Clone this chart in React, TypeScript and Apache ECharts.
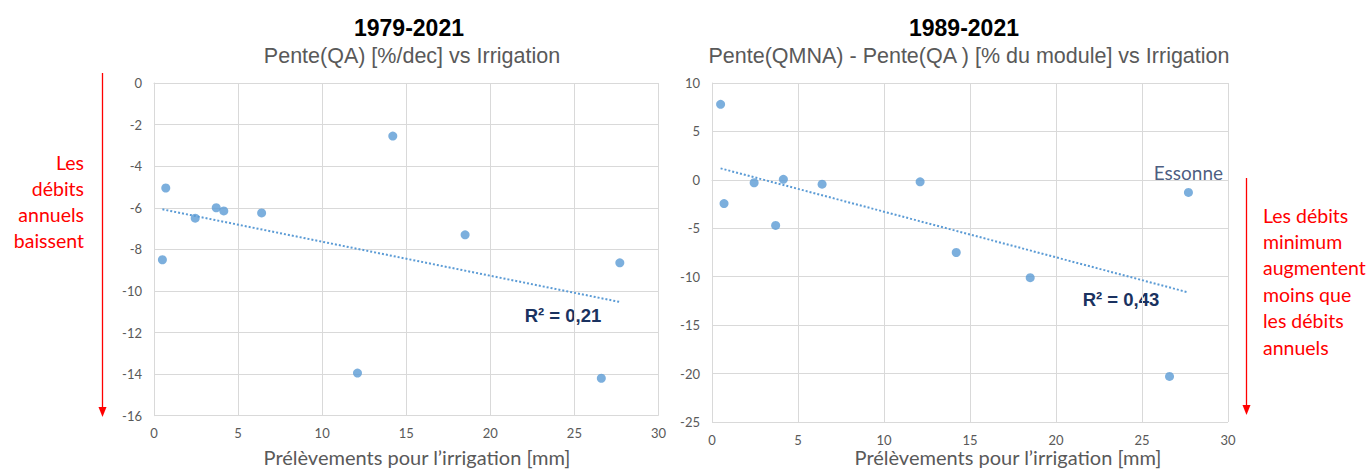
import React, { useEffect, useRef } from "react";
import * as echarts from "echarts";

// Prélèvements pour l'irrigation [mm]
const irrigation = [0.5, 0.7, 2.45, 3.7, 4.15, 6.4, 12.1, 14.2, 18.5, 26.6, 27.7];
// Pente(QA) [%/dec], 1979-2021
const penteQA = [-8.5, -5.05, -6.5, -6.0, -6.15, -6.25, -13.95, -2.55, -7.3, -14.2, -8.65];
// Pente(QMNA) - Pente(QA) [% du module], 1989-2021
const penteDiff = [7.8, -2.45, -0.3, -4.7, 0.05, -0.45, -0.2, -7.5, -10.1, -20.3, -1.3];
const stationNames = ["", "", "", "", "", "", "", "", "", "", "Essonne"];

const xTicks = { min: 0, max: 30, interval: 5 };
const leftYTicks = { min: -16, max: 0, interval: 2 };
const rightYTicks = { min: -25, max: 10, interval: 5 };

const titles = ["1979-2021", "1989-2021"];
const subtitles = [
  "Pente(QA) [%/dec] vs Irrigation",
  "Pente(QMNA) - Pente(QA ) [% du module] vs Irrigation",
];
const r2Labels = ["R² = 0,21", "R² = 0,43"];
const xName = "Prélèvements pour l’irrigation [mm]";
const leftNote = ["Les", "débits", "annuels", "baissent"];
const rightNote = ["Les débits", "minimum", "augmentent", "moins que", "les débits", "annuels"];

function linearFit(xs: number[], ys: number[]) {
  const n = xs.length;
  const mx = xs.reduce((a, b) => a + b, 0) / n;
  const my = ys.reduce((a, b) => a + b, 0) / n;
  let sxx = 0;
  let sxy = 0;
  for (let i = 0; i < n; i++) {
    sxx += (xs[i] - mx) * (xs[i] - mx);
    sxy += (xs[i] - mx) * (ys[i] - my);
  }
  const b = sxy / sxx;
  const a = my - b * mx;
  const x0 = Math.min(...xs);
  const x1 = Math.max(...xs);
  return [
    [x0, a + b * x0],
    [x1, a + b * x1],
  ];
}

const BLUE = "#5B9BD5";
const GRID = "#D9D9D9";
const LABEL = "#595959";
const NAVY = "#1A3260";
const RED = "#FF0000";
const SANS = "'Liberation Sans', Arial, sans-serif";
const CAL = "Lato, 'Open Sans', sans-serif";

function txt(text: string, x: number, y: number, font: string, fill: string, align = "center") {
  return {
    type: "text",
    x,
    y,
    silent: true,
    style: {
      text,
      font,
      fill,
      align,
      textAlign: align,
      verticalAlign: "middle",
      textVerticalAlign: "middle",
    },
  };
}

export default function App() {
  const ref = useRef<HTMLDivElement>(null);
  useEffect(() => {
    if (!ref.current) return;
    const chart = echarts.init(ref.current, undefined, { renderer: "svg" });

    const axisX = (gridIndex: number) => ({
      gridIndex,
      type: "value",
      ...xTicks,
      axisLine: { show: true, lineStyle: { color: GRID } },
      axisTick: { show: false },
      axisLabel: { color: LABEL, fontFamily: CAL, fontSize: 13, margin: 11 },
      splitLine: { show: true, lineStyle: { color: GRID } },
    });
    const axisY = (gridIndex: number, t: any) => ({
      gridIndex,
      type: "value",
      ...t,
      axisLine: { show: true, lineStyle: { color: GRID } },
      axisTick: { show: false },
      axisLabel: { color: LABEL, fontFamily: CAL, fontSize: 13, margin: 12 },
      splitLine: { show: true, lineStyle: { color: GRID } },
    });

    const leftPts = irrigation.map((x, i) => [x, penteQA[i]]);
    const rightPts = irrigation.map((x, i) => ({
      value: [x, penteDiff[i]],
      label: stationNames[i]
        ? {
            show: true,
            formatter: stationNames[i],
            position: "top",
            distance: 6,
            color: NAVY,
            fontFamily: CAL,
            fontSize: 19,
          }
        : { show: false },
    }));

    const trendStyle = { type: [2, 2], width: 2, color: BLUE };

    const graphics: any[] = [
      txt(titles[0], 409, 28, `bold 23px ${SANS}`, "#000"),
      txt(subtitles[0], 412, 56, `21.5px ${SANS}`, LABEL),
      txt(titles[1], 964, 28, `bold 23px ${SANS}`, "#000"),
      txt(subtitles[1], 969, 56, `21.5px ${SANS}`, LABEL),
      txt(xName, 417, 457, `20px ${CAL}`, LABEL),
      txt(xName, 1008, 457, `20px ${CAL}`, LABEL),
      txt(r2Labels[0], 563, 315, `bold 18.5px ${SANS}`, NAVY),
      txt(r2Labels[1], 1121, 299, `bold 18.5px ${SANS}`, NAVY),
      // left red arrow
      { type: "line", silent: true, shape: { x1: 102.5, y1: 73, x2: 102.5, y2: 408 }, style: { stroke: RED, lineWidth: 1.3 } },
      { type: "polygon", silent: true, shape: { points: [[98.5, 407], [106.5, 407], [102.5, 417]] }, style: { fill: RED } },
      // right red arrow
      { type: "line", silent: true, shape: { x1: 1246.5, y1: 178, x2: 1246.5, y2: 406 }, style: { stroke: RED, lineWidth: 1.3 } },
      { type: "polygon", silent: true, shape: { points: [[1242.5, 405], [1250.5, 405], [1246.5, 415]] }, style: { fill: RED } },
    ];
    leftNote.forEach((s, i) => graphics.push(txt(s, 84, 162 + i * 26, `19.5px ${CAL}`, RED, "right")));
    rightNote.forEach((s, i) => graphics.push(txt(s, 1263, 215 + i * 26.4, `19.5px ${CAL}`, RED, "left")));

    chart.setOption({
      animation: false,
      backgroundColor: "#fff",
      grid: [
        { left: 154, top: 83, width: 504.5, height: 332.7 },
        { left: 712, top: 83, width: 516, height: 339 },
      ],
      xAxis: [axisX(0), axisX(1)],
      yAxis: [axisY(0, leftYTicks), axisY(1, rightYTicks)],
      series: [
        {
          type: "line",
          xAxisIndex: 0,
          yAxisIndex: 0,
          data: linearFit(irrigation, penteQA),
          symbol: "none",
          lineStyle: trendStyle,
          z: 1,
        },
        {
          type: "scatter",
          xAxisIndex: 0,
          yAxisIndex: 0,
          data: leftPts,
          symbolSize: 9,
          itemStyle: { color: BLUE },
          z: 2,
        },
        {
          type: "line",
          xAxisIndex: 1,
          yAxisIndex: 1,
          data: linearFit(irrigation, penteDiff),
          symbol: "none",
          lineStyle: trendStyle,
          z: 1,
        },
        {
          type: "scatter",
          xAxisIndex: 1,
          yAxisIndex: 1,
          data: rightPts,
          symbolSize: 9,
          itemStyle: { color: BLUE },
          z: 2,
        },
      ],
      graphic: graphics,
    });
    return () => chart.dispose();
  }, []);
  return (
    <div
      ref={ref}
      style={{ position: "absolute", left: 0, top: 0, width: 1371, height: 471 }}
    />
  );
}
